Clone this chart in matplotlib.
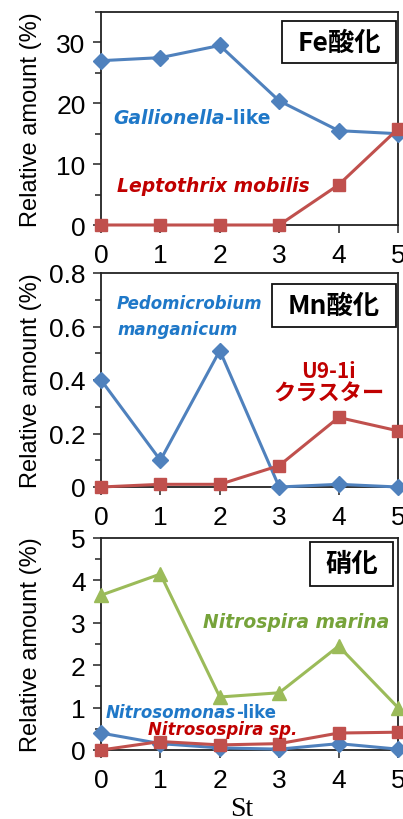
import matplotlib.pyplot as plt
from matplotlib.ticker import MultipleLocator

# Station numbers along the x axis
stations = [0, 1, 2, 3, 4, 5]

# Fe oxidisers (%)
gallionella = [27.0, 27.5, 29.5, 20.4, 15.5, 15.0]
leptothrix = [0.0, 0.0, 0.0, 0.0, 6.6, 15.8]

# Mn oxidisers (%)
pedomicrobium = [0.40, 0.10, 0.51, 0.0, 0.01, 0.0]
u91i = [0.0, 0.01, 0.01, 0.08, 0.26, 0.21]

# Nitrifiers (%)
nitrospira = [3.65, 4.15, 1.25, 1.35, 2.45, 1.0]
nitrosomonas = [0.40, 0.15, 0.05, 0.02, 0.15, 0.02]
nitrosospira = [0.0, 0.20, 0.12, 0.15, 0.40, 0.42]

panelTitles = ["Fe酸化", "Mn酸化", "硝化"]

lineBlue, lineRed, lineGreen = "#4f81bd", "#c0504d", "#9bbb59"
textBlue, textRed, textGreen = "#1f78c8", "#c00000", "#76a33a"

plt.rcParams['font.family'] = ['Liberation Sans', 'DejaVu Sans']
cjk = ['Noto Sans CJK JP', 'DejaVu Sans']
labelFont = ['DejaVu Sans']

fig = plt.figure(figsize=(4.03, 8.2), dpi=100)
W, H = 403, 820

def makeAxes(top, bottom):
    return fig.add_axes([101 / W, 1 - bottom / H, 297 / W, (bottom - top) / H])

axFe = makeAxes(13, 226)
axMn = makeAxes(274, 488)
axNi = makeAxes(539, 751)

def styleAxes(ax, ymax, major, minor):
    ax.set_xlim(0, 5)
    ax.set_ylim(0, ymax)
    ax.set_xticks(stations)
    ax.yaxis.set_major_locator(MultipleLocator(major))
    ax.yaxis.set_minor_locator(MultipleLocator(minor))
    ax.tick_params(axis='both', which='major', direction='out', length=6,
                   width=1.2, labelsize=19, color='#333333')
    ax.tick_params(axis='x', which='major', pad=7)
    ax.tick_params(axis='y', which='major', pad=5)
    ax.tick_params(axis='y', which='minor', direction='out', length=4,
                   width=1.2, color='#333333')
    for s in ax.spines.values():
        s.set_linewidth(1.3)
        s.set_color('#222222')
    ax.set_ylabel("Relative amount (%)", fontsize=17)
    ax.yaxis.set_label_coords(-0.20, 0.5)

def series(ax, y, color, marker, ms):
    ax.plot(stations, y, color=color, lw=2.2, marker=marker, ms=ms,
            clip_on=False, zorder=3)

def boxTitle(ax, text, x0, y0, x1, y1):
    fig.patches.append(plt.Rectangle((x0 / W, 1 - y1 / H), (x1 - x0) / W,
                                     (y1 - y0) / H, transform=fig.transFigure,
                                     fill=False, ec='#111111', lw=1.3))
    fig.text((x0 + x1) / 2 / W, 1 - (y0 + y1) / 2 / H, text, family=cjk,
             fontsize=19, fontweight='bold', ha='center', va='center')

def speciesLabel(x, y, italicPart, plainPart, color, size=12):
    t = fig.text(x / W, 1 - y / H, italicPart, family=labelFont, fontsize=size,
                 fontweight='bold', style='oblique', color=color, va='center')
    if plainPart:
        fig.canvas.draw()
        bb = t.get_window_extent()
        fig.text(bb.x1 / W, 1 - y / H, plainPart, family=labelFont,
                 fontsize=size, fontweight='bold', color=color, va='center')

# Fe oxidation
styleAxes(axFe, 35, 10, 5)
series(axFe, gallionella, lineBlue, 'D', 8)
series(axFe, leptothrix, lineRed, 's', 9)
boxTitle(axFe, panelTitles[0], 282, 22, 396, 64)
speciesLabel(113, 118, "Gallionella", "-like", textBlue, 13.5)
speciesLabel(117, 187, "Leptothrix mobilis", None, textRed, 13.5)

# Mn oxidation
styleAxes(axMn, 0.8, 0.2, 0.1)
axMn.yaxis.set_major_formatter(lambda v, p: "0" if v == 0 else f"{v:.1f}")
series(axMn, pedomicrobium, lineBlue, 'D', 8)
series(axMn, u91i, lineRed, 's', 9)
boxTitle(axMn, panelTitles[1], 272, 285, 396, 328)
speciesLabel(117, 304, "Pedomicrobium", None, textBlue)
speciesLabel(117, 330, "manganicum", None, textBlue)
fig.text(328 / W, 1 - 372 / H, "U9-1i", family=cjk, fontsize=15,
         fontweight='bold', color=textRed, ha='center', va='center')
fig.text(329 / W, 1 - 394 / H, "クラスター", family=cjk, fontsize=16,
         fontweight='bold', color=textRed, ha='center', va='center')

# Nitrification
styleAxes(axNi, 5, 1, 0.5)
series(axNi, nitrospira, lineGreen, '^', 10)
series(axNi, nitrosomonas, lineBlue, 'D', 8)
series(axNi, nitrosospira, lineRed, 's', 9)
boxTitle(axNi, panelTitles[2], 310, 543, 393, 587)
speciesLabel(203, 623, "Nitrospira marina", None, textGreen, 13.5)
speciesLabel(106, 713, "Nitrosomonas", "-like", textBlue)
speciesLabel(148, 730, "Nitrosospira sp.", None, textRed)

fig.text(242 / W, 1 - 810 / H, "St", family=['Liberation Serif', 'DejaVu Serif'],
         fontsize=20, ha='center', va='center')

fig.savefig("out.png", dpi=100)
